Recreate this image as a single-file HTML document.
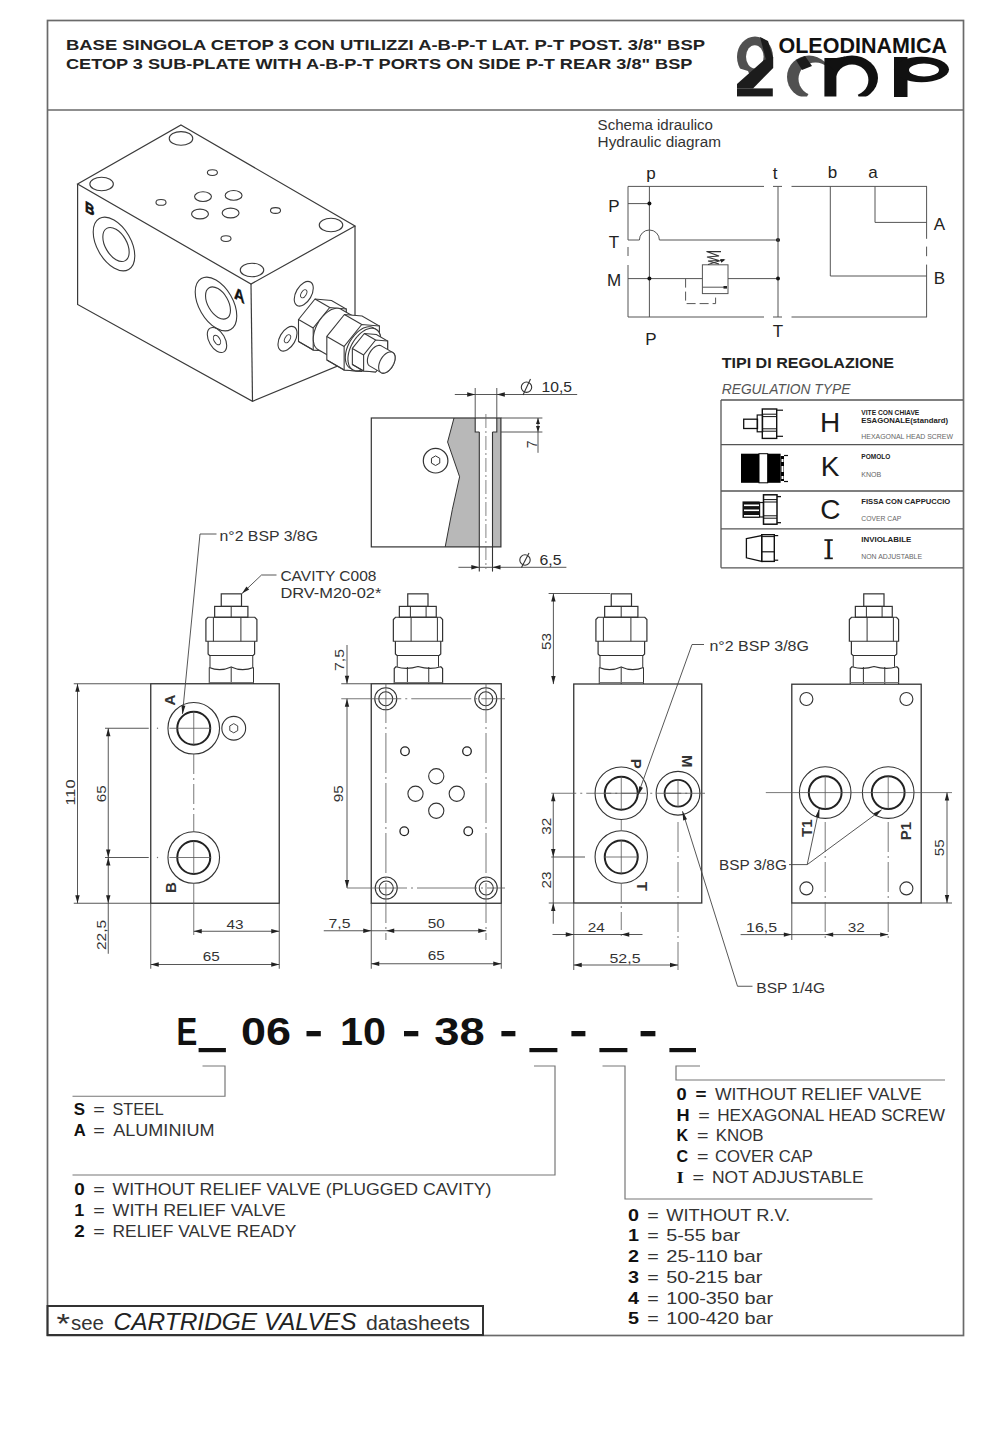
<!DOCTYPE html>
<html><head><meta charset="utf-8"><style>
html,body{margin:0;padding:0;background:#fff;}
svg{display:block;}
</style></head><body>
<svg width="1000" height="1436" viewBox="0 0 1000 1436">
<rect width="1000" height="1436" fill="#fff"/>
<rect x="47.50" y="20.50" width="916.00" height="1315.00" fill="none" stroke="#6a6a6a" stroke-width="1.7"/>
<line x1="47.50" y1="110.00" x2="963.50" y2="110.00" stroke="#6a6a6a" stroke-width="1.7"/>
<text x="66.00" y="50.00" font-family="Liberation Sans" font-size="15" font-weight="bold" text-anchor="start" fill="#222" textLength="639" lengthAdjust="spacingAndGlyphs" >BASE SINGOLA CETOP 3 CON UTILIZZI A-B-P-T LAT. P-T POST. 3/8" BSP</text>
<text x="66.00" y="68.60" font-family="Liberation Sans" font-size="15" font-weight="bold" text-anchor="start" fill="#222" textLength="626.4" lengthAdjust="spacingAndGlyphs" >CETOP 3 SUB-PLATE WITH A-B-P-T PORTS ON SIDE P-T REAR 3/8" BSP</text>
<defs><clipPath id="cl2"><polygon points="725,30 785,30 785,100 760,100 748,71 725,64"/></clipPath><clipPath id="clm1"><polygon points="780,40 825,40 825,66 807,96.5 780,96.5"/></clipPath><clipPath id="clm2"><polygon points="836,40 890,40 890,96.5 858.5,96.5 852,79 836,79"/></clipPath><mask id="mk2"><rect x="720" y="25" width="240" height="80" fill="#fff"/><ellipse cx="754.8" cy="56.8" rx="8.8" ry="11.6" fill="#000"/></mask><mask id="mkm1"><rect x="720" y="25" width="240" height="80" fill="#fff"/><ellipse cx="815.5" cy="79" rx="17" ry="16.5" fill="#000"/></mask><mask id="mkm2"><rect x="720" y="25" width="240" height="80" fill="#fff"/><ellipse cx="852" cy="80" rx="16.4" ry="15.6" fill="#000"/></mask></defs>
<g clip-path="url(#cl2)"><ellipse cx="755" cy="57" rx="18" ry="20.6" fill="#505050" mask="url(#mk2)"/></g>
<polygon points="764.00,60.00 773.20,57.00 773.20,68.00 753.00,88.50 737.00,88.50 737.00,84.00" fill="#1c1c1c" stroke="none" stroke-width="0"/>
<rect x="737.00" y="88.40" width="35.80" height="8.00" fill="#1c1c1c" stroke="none" stroke-width="0"/>
<polygon points="760.00,37.00 768.00,41.00 773.20,58.00 766.00,60.00" fill="#1c1c1c" stroke="none" stroke-width="0"/>
<g clip-path="url(#clm1)"><ellipse cx="809" cy="77" rx="22" ry="21.4" fill="#505050" mask="url(#mkm1)"/></g>
<polygon points="796.00,60.00 805.00,56.00 812.00,66.00 802.00,70.00" fill="#1c1c1c" stroke="none" stroke-width="0"/>
<rect x="824.40" y="58.00" width="12.00" height="38.50" fill="#111" stroke="none" stroke-width="0"/>
<g clip-path="url(#clm2)"><ellipse cx="852" cy="78" rx="26" ry="22.4" fill="#111" mask="url(#mkm2)"/></g>
<polygon points="824.40,62.00 836.40,58.00 845.00,56.50 840.00,68.00 836.40,72.00" fill="#111" stroke="none" stroke-width="0"/>
<rect x="894.00" y="57.00" width="13.50" height="40.00" fill="#111" stroke="none" stroke-width="0"/>
<ellipse cx="921.50" cy="69.50" rx="27.50" ry="12.70" fill="#111" stroke="none" stroke-width="0"/>
<ellipse cx="924.00" cy="70.00" rx="15.00" ry="6.40" fill="#fff" stroke="none" stroke-width="0"/>
<text x="778.40" y="52.80" font-family="Liberation Sans" font-size="22.7" font-weight="bold" text-anchor="start" fill="#111" textLength="168.6" lengthAdjust="spacingAndGlyphs" >OLEODINAMICA</text>
<text x="597.60" y="130.00" font-family="Liberation Sans" font-size="14" font-weight="normal" text-anchor="start" fill="#333" textLength="115.4" lengthAdjust="spacingAndGlyphs" >Schema idraulico</text>
<text x="597.60" y="147.00" font-family="Liberation Sans" font-size="14" font-weight="normal" text-anchor="start" fill="#333" textLength="123.4" lengthAdjust="spacingAndGlyphs" >Hydraulic diagram</text>
<line x1="628.00" y1="186.40" x2="628.00" y2="240.00" stroke="#555" stroke-width="1"/>
<line x1="628.00" y1="247.00" x2="628.00" y2="256.00" stroke="#555" stroke-width="1"/>
<line x1="628.00" y1="265.00" x2="628.00" y2="317.00" stroke="#555" stroke-width="1"/>
<line x1="628.00" y1="186.40" x2="764.00" y2="186.40" stroke="#555" stroke-width="1"/>
<line x1="773.00" y1="186.40" x2="782.00" y2="186.40" stroke="#555" stroke-width="1"/>
<line x1="791.50" y1="186.40" x2="927.00" y2="186.40" stroke="#555" stroke-width="1"/>
<line x1="628.00" y1="317.00" x2="764.00" y2="317.00" stroke="#555" stroke-width="1"/>
<line x1="773.00" y1="317.00" x2="782.00" y2="317.00" stroke="#555" stroke-width="1"/>
<line x1="791.50" y1="317.00" x2="927.00" y2="317.00" stroke="#555" stroke-width="1"/>
<line x1="649.40" y1="186.40" x2="649.40" y2="317.00" stroke="#555" stroke-width="1"/>
<line x1="628.00" y1="203.60" x2="649.40" y2="203.60" stroke="#555" stroke-width="1"/>
<circle cx="649.40" cy="203.60" r="2" fill="#111"/>
<path d="M 628 240 L 639.4 240 A 10 10 0 0 1 659.4 240 L 778 240" fill="none" stroke="#555" stroke-width="1" />
<circle cx="778.00" cy="240.00" r="2" fill="#111"/>
<line x1="778.00" y1="186.40" x2="778.00" y2="317.00" stroke="#555" stroke-width="1"/>
<line x1="628.00" y1="278.60" x2="702.40" y2="278.60" stroke="#555" stroke-width="1"/>
<line x1="728.00" y1="278.60" x2="778.00" y2="278.60" stroke="#555" stroke-width="1"/>
<circle cx="649.40" cy="278.60" r="2" fill="#111"/>
<circle cx="778.00" cy="278.60" r="2" fill="#111"/>
<rect x="702.40" y="264.80" width="25.60" height="28.80" fill="none" stroke="#555" stroke-width="1"/>
<line x1="702.40" y1="287.20" x2="725.00" y2="287.20" stroke="#555" stroke-width="1"/>
<rect x="723.50" y="286.00" width="3.50" height="2.60" fill="#222" stroke="none" stroke-width="0"/>
<polyline points="685.60,278.60 685.60,303.60 715.60,303.60 715.60,293.60" fill="none" stroke="#555" stroke-width="1" stroke-dasharray="9,4"/>
<polyline points="721.00,251.60 706.50,251.60 719.00,256.00 707.00,257.00 719.00,260.50 708.00,261.00 719.00,264.00" fill="none" stroke="#333" stroke-width="1.1"/>
<line x1="708.00" y1="264.50" x2="724.00" y2="259.50" stroke="#333" stroke-width="1"/>
<polygon points="725.50,259.50 721.29,262.85 720.14,259.02" fill="#222"/>
<line x1="830.30" y1="186.40" x2="830.30" y2="276.00" stroke="#555" stroke-width="1"/>
<line x1="830.30" y1="276.00" x2="927.00" y2="276.00" stroke="#555" stroke-width="1"/>
<line x1="875.00" y1="186.40" x2="875.00" y2="222.40" stroke="#555" stroke-width="1"/>
<line x1="875.00" y1="222.40" x2="927.00" y2="222.40" stroke="#555" stroke-width="1"/>
<line x1="926.60" y1="186.40" x2="926.60" y2="238.80" stroke="#555" stroke-width="1"/>
<line x1="926.60" y1="246.60" x2="926.60" y2="256.20" stroke="#555" stroke-width="1"/>
<line x1="926.60" y1="264.60" x2="926.60" y2="317.00" stroke="#555" stroke-width="1"/>
<text x="651.00" y="179.00" font-family="Liberation Sans" font-size="17" font-weight="normal" text-anchor="middle" fill="#222" >p</text>
<text x="775.00" y="179.00" font-family="Liberation Sans" font-size="17" font-weight="normal" text-anchor="middle" fill="#222" >t</text>
<text x="832.40" y="178.40" font-family="Liberation Sans" font-size="17" font-weight="normal" text-anchor="middle" fill="#222" >b</text>
<text x="873.00" y="178.40" font-family="Liberation Sans" font-size="17" font-weight="normal" text-anchor="middle" fill="#222" >a</text>
<text x="614.00" y="212.00" font-family="Liberation Sans" font-size="17" font-weight="normal" text-anchor="middle" fill="#222" >P</text>
<text x="614.00" y="248.00" font-family="Liberation Sans" font-size="17" font-weight="normal" text-anchor="middle" fill="#222" >T</text>
<text x="614.00" y="286.00" font-family="Liberation Sans" font-size="17" font-weight="normal" text-anchor="middle" fill="#222" >M</text>
<text x="651.00" y="345.00" font-family="Liberation Sans" font-size="17" font-weight="normal" text-anchor="middle" fill="#222" >P</text>
<text x="778.00" y="337.00" font-family="Liberation Sans" font-size="17" font-weight="normal" text-anchor="middle" fill="#222" >T</text>
<text x="939.50" y="229.50" font-family="Liberation Sans" font-size="17" font-weight="normal" text-anchor="middle" fill="#222" >A</text>
<text x="939.50" y="284.40" font-family="Liberation Sans" font-size="17" font-weight="normal" text-anchor="middle" fill="#222" >B</text>
<text x="721.70" y="368.40" font-family="Liberation Sans" font-size="14" font-weight="bold" text-anchor="start" fill="#222" textLength="172.3" lengthAdjust="spacingAndGlyphs" >TIPI DI REGOLAZIONE</text>
<text x="721.70" y="393.60" font-family="Liberation Sans" font-size="14" font-weight="normal" text-anchor="start" fill="#555" font-style="italic" textLength="128.7" lengthAdjust="spacingAndGlyphs" >REGULATION TYPE</text>
<line x1="721.00" y1="400.00" x2="963.00" y2="400.00" stroke="#555" stroke-width="1.3"/>
<line x1="721.00" y1="444.60" x2="963.00" y2="444.60" stroke="#555" stroke-width="1.3"/>
<line x1="721.00" y1="491.00" x2="963.00" y2="491.00" stroke="#555" stroke-width="1.3"/>
<line x1="721.00" y1="528.80" x2="963.00" y2="528.80" stroke="#555" stroke-width="1.3"/>
<line x1="721.00" y1="567.80" x2="963.00" y2="567.80" stroke="#555" stroke-width="1.3"/>
<line x1="721.00" y1="400.00" x2="721.00" y2="567.80" stroke="#555" stroke-width="1.3"/>
<text x="830.00" y="432.00" font-family="Liberation Sans" font-size="28" font-weight="normal" text-anchor="middle" fill="#1a1a1a" >H</text>
<text x="830.00" y="476.30" font-family="Liberation Sans" font-size="28" font-weight="normal" text-anchor="middle" fill="#1a1a1a" >K</text>
<text x="830.40" y="519.20" font-family="Liberation Sans" font-size="28" font-weight="normal" text-anchor="middle" fill="#1a1a1a" >C</text>
<text x="828.60" y="559.20" font-family="Liberation Sans" font-size="28" font-weight="normal" text-anchor="middle" fill="#1a1a1a" >I</text>
<rect x="824.40" y="539.20" width="8.40" height="1.70" fill="#1a1a1a" stroke="none" stroke-width="0"/>
<rect x="824.40" y="557.50" width="8.40" height="1.70" fill="#1a1a1a" stroke="none" stroke-width="0"/>
<text x="861.30" y="415.00" font-family="Liberation Sans" font-size="7" font-weight="bold" text-anchor="start" fill="#222" textLength="58" lengthAdjust="spacingAndGlyphs" >VITE CON CHIAVE</text>
<text x="861.30" y="422.50" font-family="Liberation Sans" font-size="7" font-weight="bold" text-anchor="start" fill="#222" textLength="86.7" lengthAdjust="spacingAndGlyphs" >ESAGONALE(standard)</text>
<text x="861.30" y="438.60" font-family="Liberation Sans" font-size="6.5" font-weight="normal" text-anchor="start" fill="#666" textLength="91.7" lengthAdjust="spacingAndGlyphs" >HEXAGONAL HEAD SCREW</text>
<text x="861.30" y="459.40" font-family="Liberation Sans" font-size="7" font-weight="bold" text-anchor="start" fill="#222" textLength="29" lengthAdjust="spacingAndGlyphs" >POMOLO</text>
<text x="861.30" y="476.80" font-family="Liberation Sans" font-size="6.5" font-weight="normal" text-anchor="start" fill="#666" textLength="20" lengthAdjust="spacingAndGlyphs" >KNOB</text>
<text x="861.30" y="504.00" font-family="Liberation Sans" font-size="7" font-weight="bold" text-anchor="start" fill="#222" textLength="89" lengthAdjust="spacingAndGlyphs" >FISSA CON CAPPUCCIO</text>
<text x="861.30" y="521.00" font-family="Liberation Sans" font-size="6.5" font-weight="normal" text-anchor="start" fill="#666" textLength="40" lengthAdjust="spacingAndGlyphs" >COVER CAP</text>
<text x="861.30" y="541.80" font-family="Liberation Sans" font-size="7" font-weight="bold" text-anchor="start" fill="#222" textLength="50" lengthAdjust="spacingAndGlyphs" >INVIOLABILE</text>
<text x="861.30" y="558.70" font-family="Liberation Sans" font-size="6.5" font-weight="normal" text-anchor="start" fill="#666" textLength="60.7" lengthAdjust="spacingAndGlyphs" >NON ADJUSTABLE</text>
<rect x="221.25" y="593.85" width="20.25" height="12.55" fill="none" stroke="#333" stroke-width="1.2"/>
<rect x="214.65" y="606.40" width="33.25" height="10.85" fill="none" stroke="#333" stroke-width="1.2"/>
<line x1="231.20" y1="606.40" x2="231.20" y2="617.25" stroke="#333" stroke-width="1"/>
<path d="M 205.9 641.25 L 205.9 619.5 L 208 617.25 L 254.8 617.25 L 256.9 619.5 L 256.9 641.25 Z" fill="none" stroke="#333" stroke-width="1.2" />
<line x1="213.40" y1="617.25" x2="213.40" y2="641.25" stroke="#333" stroke-width="1"/>
<line x1="240.90" y1="617.25" x2="240.90" y2="641.25" stroke="#333" stroke-width="1"/>
<path d="M 208.1 641.25 L 208.1 654 L 209.5 655.5 L 253.2 655.5 L 254.6 654 L 254.6 641.25" fill="none" stroke="#333" stroke-width="1.2" />
<line x1="210.00" y1="655.50" x2="210.00" y2="667.50" stroke="#333" stroke-width="1"/>
<line x1="252.75" y1="655.50" x2="252.75" y2="667.50" stroke="#333" stroke-width="1"/>
<path d="M 209.25 667.5 Q 220 672 231.2 667 Q 242 672 253.5 667.5" fill="none" stroke="#333" stroke-width="1.3" />
<line x1="209.25" y1="667.50" x2="209.25" y2="684.00" stroke="#333" stroke-width="1"/>
<line x1="253.50" y1="667.50" x2="253.50" y2="684.00" stroke="#333" stroke-width="1"/>
<line x1="231.20" y1="667.50" x2="231.20" y2="684.00" stroke="#333" stroke-width="1"/>
<line x1="209.25" y1="682.50" x2="253.50" y2="682.50" stroke="#777" stroke-width="1"/>
<rect x="150.75" y="683.75" width="128.50" height="219.50" fill="none" stroke="#333" stroke-width="1.3"/>
<circle cx="193.75" cy="728.25" r="25.80" fill="none" stroke="#333" stroke-width="1.1"/>
<circle cx="193.75" cy="728.25" r="16.50" fill="none" stroke="#222" stroke-width="2"/>
<line x1="169.40" y1="728.25" x2="211.00" y2="728.25" stroke="#555" stroke-width="0.8"/>
<line x1="193.75" y1="711.25" x2="193.75" y2="745.25" stroke="#555" stroke-width="0.8"/>
<circle cx="157.50" cy="728.25" r="0.7" fill="#777"/>
<circle cx="193.75" cy="857.50" r="25.80" fill="none" stroke="#333" stroke-width="1.1"/>
<circle cx="193.75" cy="857.50" r="16.50" fill="none" stroke="#222" stroke-width="2"/>
<line x1="169.40" y1="857.50" x2="211.00" y2="857.50" stroke="#555" stroke-width="0.8"/>
<line x1="193.75" y1="840.50" x2="193.75" y2="874.50" stroke="#555" stroke-width="0.8"/>
<circle cx="157.50" cy="857.50" r="0.7" fill="#777"/>
<circle cx="233.75" cy="728.25" r="11.90" fill="none" stroke="#333" stroke-width="1.1"/>
<polygon points="237.73,730.55 233.75,732.85 229.77,730.55 229.77,725.95 233.75,723.65 237.73,725.95" fill="none" stroke="#333" stroke-width="0.9"/>
<line x1="193.75" y1="754.00" x2="193.75" y2="831.50" stroke="#555" stroke-width="0.8" stroke-dasharray="20,4,2,4"/>
<line x1="193.75" y1="883.50" x2="193.75" y2="935.00" stroke="#555" stroke-width="0.8"/>
<text x="169.50" y="700.00" font-family="Liberation Sans" font-size="15" font-weight="bold" text-anchor="middle" fill="#333" transform="rotate(-90 169.50 700.00)" dominant-baseline="central">A</text>
<text x="170.50" y="887.50" font-family="Liberation Sans" font-size="15" font-weight="bold" text-anchor="middle" fill="#333" transform="rotate(-90 170.50 887.50)" dominant-baseline="central">B</text>
<text x="219.50" y="541.00" font-family="Liberation Sans" font-size="14" font-weight="normal" text-anchor="start" fill="#333" textLength="98.5" lengthAdjust="spacingAndGlyphs" >n°2 BSP 3/8G</text>
<line x1="200.00" y1="534.00" x2="216.50" y2="534.00" stroke="#444" stroke-width="0.9"/>
<line x1="200.00" y1="534.00" x2="182.50" y2="713.75" stroke="#444" stroke-width="0.9"/>
<polygon points="182.50,714.50 181.41,705.35 185.39,705.74" fill="#222"/>
<text x="280.40" y="580.80" font-family="Liberation Sans" font-size="14.5" font-weight="normal" text-anchor="start" fill="#333" textLength="96" lengthAdjust="spacingAndGlyphs" >CAVITY C008</text>
<text x="280.40" y="598.40" font-family="Liberation Sans" font-size="14.5" font-weight="normal" text-anchor="start" fill="#333" textLength="101" lengthAdjust="spacingAndGlyphs" >DRV-M20-02*</text>
<line x1="276.50" y1="575.00" x2="261.50" y2="575.00" stroke="#444" stroke-width="0.9"/>
<line x1="261.50" y1="575.00" x2="242.00" y2="593.50" stroke="#444" stroke-width="0.9"/>
<polygon points="242.00,593.50 246.42,586.54 249.18,589.44" fill="#222"/>
<line x1="73.75" y1="683.75" x2="150.75" y2="683.75" stroke="#444" stroke-width="0.9"/>
<line x1="73.75" y1="903.25" x2="150.75" y2="903.25" stroke="#444" stroke-width="0.9"/>
<line x1="77.50" y1="683.75" x2="77.50" y2="903.25" stroke="#444" stroke-width="0.9"/>
<polygon points="77.50,683.75 79.70,691.75 75.30,691.75" fill="#222"/>
<polygon points="77.50,903.25 75.30,895.25 79.70,895.25" fill="#222"/>
<text x="70.00" y="792.50" font-family="Liberation Sans" font-size="13.5" font-weight="normal" text-anchor="middle" fill="#333" textLength="26" lengthAdjust="spacingAndGlyphs" transform="rotate(-90 70.00 792.50)"  dominant-baseline="central">110</text>
<line x1="105.00" y1="728.25" x2="148.75" y2="728.25" stroke="#444" stroke-width="0.9"/>
<line x1="105.00" y1="857.50" x2="148.75" y2="857.50" stroke="#444" stroke-width="0.9"/>
<line x1="108.25" y1="728.25" x2="108.25" y2="953.75" stroke="#444" stroke-width="0.9"/>
<polygon points="108.25,728.25 110.45,736.25 106.05,736.25" fill="#222"/>
<polygon points="108.25,857.50 106.05,849.50 110.45,849.50" fill="#222"/>
<polygon points="108.25,857.50 110.45,865.50 106.05,865.50" fill="#222"/>
<polygon points="108.25,903.25 106.05,895.25 110.45,895.25" fill="#222"/>
<text x="101.25" y="793.75" font-family="Liberation Sans" font-size="13.5" font-weight="normal" text-anchor="middle" fill="#333" textLength="17" lengthAdjust="spacingAndGlyphs" transform="rotate(-90 101.25 793.75)"  dominant-baseline="central">65</text>
<text x="101.00" y="935.00" font-family="Liberation Sans" font-size="13.5" font-weight="normal" text-anchor="middle" fill="#333" textLength="30" lengthAdjust="spacingAndGlyphs" transform="rotate(-90 101.00 935.00)"  dominant-baseline="central">22,5</text>
<line x1="193.75" y1="931.25" x2="279.25" y2="931.25" stroke="#444" stroke-width="0.9"/>
<polygon points="193.75,931.25 201.75,929.05 201.75,933.45" fill="#222"/>
<polygon points="279.25,931.25 271.25,933.45 271.25,929.05" fill="#222"/>
<line x1="279.25" y1="903.25" x2="279.25" y2="968.75" stroke="#444" stroke-width="0.9"/>
<line x1="150.75" y1="903.25" x2="150.75" y2="968.75" stroke="#444" stroke-width="0.9"/>
<text x="235.00" y="928.75" font-family="Liberation Sans" font-size="13.5" font-weight="normal" text-anchor="middle" fill="#333" textLength="17" lengthAdjust="spacingAndGlyphs" >43</text>
<line x1="150.75" y1="964.50" x2="279.25" y2="964.50" stroke="#444" stroke-width="0.9"/>
<polygon points="150.75,964.50 158.75,962.30 158.75,966.70" fill="#222"/>
<polygon points="279.25,964.50 271.25,966.70 271.25,962.30" fill="#222"/>
<text x="211.25" y="961.25" font-family="Liberation Sans" font-size="13.5" font-weight="normal" text-anchor="middle" fill="#333" textLength="17" lengthAdjust="spacingAndGlyphs" >65</text>
<rect x="407.75" y="593.85" width="20.25" height="12.55" fill="none" stroke="#333" stroke-width="1.2"/>
<rect x="399.35" y="606.40" width="36.90" height="10.85" fill="none" stroke="#333" stroke-width="1.2"/>
<line x1="410.40" y1="606.40" x2="410.40" y2="617.25" stroke="#333" stroke-width="1"/>
<line x1="426.10" y1="606.40" x2="426.10" y2="617.25" stroke="#333" stroke-width="1"/>
<path d="M 393.35 641.25 L 393.35 619.5 L 395.5 617.25 L 440.5 617.25 L 442.6 619.5 L 442.6 641.25 Z" fill="none" stroke="#333" stroke-width="1.2" />
<line x1="411.10" y1="617.25" x2="411.10" y2="641.25" stroke="#333" stroke-width="1"/>
<line x1="437.40" y1="617.25" x2="437.40" y2="641.25" stroke="#333" stroke-width="1"/>
<path d="M 395.4 641.25 L 395.4 654 L 397 655.5 L 439.2 655.5 L 440.75 654 L 440.75 641.25" fill="none" stroke="#333" stroke-width="1.2" />
<line x1="397.25" y1="655.50" x2="397.25" y2="666.75" stroke="#333" stroke-width="1"/>
<line x1="438.50" y1="655.50" x2="438.50" y2="666.75" stroke="#333" stroke-width="1"/>
<path d="M 394.25 684 L 394.25 668.5 L 396 666.75 Q 407 670 418 666.5 Q 430 670 440.8 666.75 L 442.6 668.5 L 442.6 684" fill="none" stroke="#333" stroke-width="1.2" />
<line x1="407.40" y1="667.00" x2="407.40" y2="684.00" stroke="#333" stroke-width="1"/>
<line x1="428.75" y1="667.00" x2="428.75" y2="684.00" stroke="#333" stroke-width="1"/>
<line x1="394.25" y1="682.50" x2="442.60" y2="682.50" stroke="#777" stroke-width="1"/>
<rect x="371.25" y="683.75" width="130.00" height="219.50" fill="none" stroke="#333" stroke-width="1.3"/>
<circle cx="385.75" cy="698.75" r="11.00" fill="none" stroke="#333" stroke-width="1.1"/>
<circle cx="385.75" cy="698.75" r="7.00" fill="none" stroke="#333" stroke-width="1.1"/>
<circle cx="485.75" cy="698.75" r="11.00" fill="none" stroke="#333" stroke-width="1.1"/>
<circle cx="485.75" cy="698.75" r="7.00" fill="none" stroke="#333" stroke-width="1.1"/>
<circle cx="386.25" cy="888.00" r="11.00" fill="none" stroke="#333" stroke-width="1.1"/>
<circle cx="386.25" cy="888.00" r="7.00" fill="none" stroke="#333" stroke-width="1.1"/>
<circle cx="486.25" cy="888.00" r="11.00" fill="none" stroke="#333" stroke-width="1.1"/>
<circle cx="486.25" cy="888.00" r="7.00" fill="none" stroke="#333" stroke-width="1.1"/>
<line x1="341.25" y1="698.75" x2="505.00" y2="698.75" stroke="#555" stroke-width="0.8" stroke-dasharray="60,4,2,4"/>
<line x1="347.00" y1="888.00" x2="505.00" y2="888.00" stroke="#555" stroke-width="0.8" stroke-dasharray="60,4,2,4"/>
<line x1="385.90" y1="683.00" x2="385.90" y2="940.00" stroke="#555" stroke-width="0.8" stroke-dasharray="40,4,2,4"/>
<line x1="486.00" y1="683.00" x2="486.00" y2="940.00" stroke="#555" stroke-width="0.8" stroke-dasharray="40,4,2,4"/>
<circle cx="405.00" cy="751.25" r="4.30" fill="none" stroke="#222" stroke-width="1.3"/>
<circle cx="467.00" cy="751.25" r="4.30" fill="none" stroke="#222" stroke-width="1.3"/>
<circle cx="404.25" cy="831.25" r="4.30" fill="none" stroke="#222" stroke-width="1.3"/>
<circle cx="468.25" cy="831.25" r="4.30" fill="none" stroke="#222" stroke-width="1.3"/>
<circle cx="436.25" cy="776.25" r="7.60" fill="none" stroke="#333" stroke-width="1.1"/>
<circle cx="415.50" cy="793.75" r="7.60" fill="none" stroke="#333" stroke-width="1.1"/>
<circle cx="456.75" cy="793.75" r="7.60" fill="none" stroke="#333" stroke-width="1.1"/>
<circle cx="436.25" cy="810.75" r="7.60" fill="none" stroke="#333" stroke-width="1.1"/>
<line x1="341.25" y1="683.75" x2="371.25" y2="683.75" stroke="#444" stroke-width="0.9"/>
<line x1="347.00" y1="645.00" x2="347.00" y2="683.75" stroke="#444" stroke-width="0.9"/>
<polygon points="347.00,683.75 344.80,675.75 349.20,675.75" fill="#222"/>
<line x1="347.00" y1="698.75" x2="347.00" y2="888.00" stroke="#444" stroke-width="0.9"/>
<polygon points="347.00,698.75 349.20,706.75 344.80,706.75" fill="#222"/>
<polygon points="347.00,888.00 344.80,880.00 349.20,880.00" fill="#222"/>
<text x="339.50" y="660.00" font-family="Liberation Sans" font-size="13.5" font-weight="normal" text-anchor="middle" fill="#333" textLength="22" lengthAdjust="spacingAndGlyphs" transform="rotate(-90 339.50 660.00)"  dominant-baseline="central">7,5</text>
<text x="338.75" y="793.75" font-family="Liberation Sans" font-size="13.5" font-weight="normal" text-anchor="middle" fill="#333" textLength="17" lengthAdjust="spacingAndGlyphs" transform="rotate(-90 338.75 793.75)"  dominant-baseline="central">95</text>
<line x1="323.75" y1="930.75" x2="486.25" y2="930.75" stroke="#444" stroke-width="0.9"/>
<polygon points="371.25,930.75 363.25,932.95 363.25,928.55" fill="#222"/>
<polygon points="386.25,930.75 394.25,928.55 394.25,932.95" fill="#222"/>
<polygon points="486.25,930.75 478.25,932.95 478.25,928.55" fill="#222"/>
<line x1="371.25" y1="903.25" x2="371.25" y2="968.75" stroke="#444" stroke-width="0.9"/>
<line x1="501.25" y1="903.25" x2="501.25" y2="968.75" stroke="#444" stroke-width="0.9"/>
<text x="339.50" y="927.50" font-family="Liberation Sans" font-size="13.5" font-weight="normal" text-anchor="middle" fill="#333" textLength="22" lengthAdjust="spacingAndGlyphs" >7,5</text>
<text x="436.25" y="927.50" font-family="Liberation Sans" font-size="13.5" font-weight="normal" text-anchor="middle" fill="#333" textLength="17" lengthAdjust="spacingAndGlyphs" >50</text>
<line x1="371.25" y1="963.75" x2="501.25" y2="963.75" stroke="#444" stroke-width="0.9"/>
<polygon points="371.25,963.75 379.25,961.55 379.25,965.95" fill="#222"/>
<polygon points="501.25,963.75 493.25,965.95 493.25,961.55" fill="#222"/>
<text x="436.25" y="960.00" font-family="Liberation Sans" font-size="13.5" font-weight="normal" text-anchor="middle" fill="#333" textLength="17" lengthAdjust="spacingAndGlyphs" >65</text>
<line x1="548.60" y1="593.50" x2="610.00" y2="593.50" stroke="#444" stroke-width="0.9"/>
<line x1="553.40" y1="593.50" x2="553.40" y2="684.10" stroke="#444" stroke-width="0.9"/>
<polygon points="553.40,593.50 555.60,601.50 551.20,601.50" fill="#222"/>
<polygon points="553.40,684.10 551.20,676.10 555.60,676.10" fill="#222"/>
<text x="546.50" y="641.50" font-family="Liberation Sans" font-size="13.5" font-weight="normal" text-anchor="middle" fill="#333" textLength="17" lengthAdjust="spacingAndGlyphs" transform="rotate(-90 546.50 641.50)"  dominant-baseline="central">53</text>
<rect x="611.25" y="593.85" width="20.25" height="12.55" fill="none" stroke="#333" stroke-width="1.2"/>
<rect x="604.65" y="606.40" width="33.25" height="10.85" fill="none" stroke="#333" stroke-width="1.2"/>
<line x1="621.20" y1="606.40" x2="621.20" y2="617.25" stroke="#333" stroke-width="1"/>
<path d="M 595.9 641.25 L 595.9 619.5 L 598 617.25 L 644.8 617.25 L 646.9 619.5 L 646.9 641.25 Z" fill="none" stroke="#333" stroke-width="1.2" />
<line x1="603.40" y1="617.25" x2="603.40" y2="641.25" stroke="#333" stroke-width="1"/>
<line x1="630.90" y1="617.25" x2="630.90" y2="641.25" stroke="#333" stroke-width="1"/>
<path d="M 598.1 641.25 L 598.1 654 L 599.5 655.5 L 643.2 655.5 L 644.6 654 L 644.6 641.25" fill="none" stroke="#333" stroke-width="1.2" />
<line x1="600.00" y1="655.50" x2="600.00" y2="667.50" stroke="#333" stroke-width="1"/>
<line x1="642.75" y1="655.50" x2="642.75" y2="667.50" stroke="#333" stroke-width="1"/>
<path d="M 599.25 667.5 Q 610 672 621.2 667 Q 632 672 643.5 667.5" fill="none" stroke="#333" stroke-width="1.3" />
<line x1="599.25" y1="667.50" x2="599.25" y2="684.00" stroke="#333" stroke-width="1"/>
<line x1="643.50" y1="667.50" x2="643.50" y2="684.00" stroke="#333" stroke-width="1"/>
<line x1="621.20" y1="667.50" x2="621.20" y2="684.00" stroke="#333" stroke-width="1"/>
<line x1="599.25" y1="682.50" x2="643.50" y2="682.50" stroke="#777" stroke-width="1"/>
<rect x="573.75" y="684.00" width="128.00" height="219.00" fill="none" stroke="#333" stroke-width="1.3"/>
<circle cx="621.25" cy="793.25" r="26.20" fill="none" stroke="#333" stroke-width="1.1"/>
<circle cx="621.25" cy="793.25" r="16.50" fill="none" stroke="#222" stroke-width="2"/>
<line x1="604.00" y1="793.25" x2="638.50" y2="793.25" stroke="#555" stroke-width="0.8"/>
<line x1="621.25" y1="776.25" x2="621.25" y2="810.25" stroke="#555" stroke-width="0.8"/>
<circle cx="621.25" cy="857.00" r="26.20" fill="none" stroke="#333" stroke-width="1.1"/>
<circle cx="621.25" cy="857.00" r="16.50" fill="none" stroke="#222" stroke-width="2"/>
<line x1="604.00" y1="857.00" x2="638.50" y2="857.00" stroke="#555" stroke-width="0.8"/>
<line x1="621.25" y1="840.00" x2="621.25" y2="874.00" stroke="#555" stroke-width="0.8"/>
<circle cx="678.00" cy="793.25" r="21.90" fill="none" stroke="#333" stroke-width="1.1"/>
<circle cx="678.00" cy="793.25" r="13.40" fill="none" stroke="#222" stroke-width="1.8"/>
<line x1="664.00" y1="793.25" x2="692.00" y2="793.25" stroke="#555" stroke-width="0.8"/>
<line x1="678.00" y1="779.00" x2="678.00" y2="807.00" stroke="#555" stroke-width="0.8"/>
<line x1="551.25" y1="793.25" x2="705.00" y2="793.25" stroke="#555" stroke-width="0.8" stroke-dasharray="25,4,2,4"/>
<line x1="551.25" y1="857.00" x2="585.00" y2="857.00" stroke="#444" stroke-width="0.9"/>
<line x1="548.75" y1="903.00" x2="573.75" y2="903.00" stroke="#444" stroke-width="0.9"/>
<line x1="621.25" y1="820.00" x2="621.25" y2="830.00" stroke="#555" stroke-width="0.8"/>
<line x1="621.25" y1="884.00" x2="621.25" y2="940.00" stroke="#555" stroke-width="0.8" stroke-dasharray="18,4,2,4"/>
<line x1="678.00" y1="822.00" x2="678.00" y2="970.00" stroke="#555" stroke-width="0.8" stroke-dasharray="30,4,2,4"/>
<text x="636.25" y="763.75" font-family="Liberation Sans" font-size="15" font-weight="bold" text-anchor="middle" fill="#333" transform="rotate(90 636.25 763.75)" dominant-baseline="central">P</text>
<text x="687.00" y="761.25" font-family="Liberation Sans" font-size="15" font-weight="bold" text-anchor="middle" fill="#333" transform="rotate(90 687.00 761.25)" dominant-baseline="central">M</text>
<text x="642.50" y="886.25" font-family="Liberation Sans" font-size="15" font-weight="bold" text-anchor="middle" fill="#333" transform="rotate(90 642.50 886.25)" dominant-baseline="central">T</text>
<line x1="553.25" y1="793.25" x2="553.25" y2="923.75" stroke="#444" stroke-width="0.9"/>
<polygon points="553.25,793.25 555.45,801.25 551.05,801.25" fill="#222"/>
<polygon points="553.25,857.00 551.05,849.00 555.45,849.00" fill="#222"/>
<polygon points="553.25,903.00 555.45,911.00 551.05,911.00" fill="#222"/>
<text x="546.25" y="826.25" font-family="Liberation Sans" font-size="13.5" font-weight="normal" text-anchor="middle" fill="#333" textLength="17" lengthAdjust="spacingAndGlyphs" transform="rotate(-90 546.25 826.25)"  dominant-baseline="central">32</text>
<text x="546.25" y="880.00" font-family="Liberation Sans" font-size="13.5" font-weight="normal" text-anchor="middle" fill="#333" textLength="17" lengthAdjust="spacingAndGlyphs" transform="rotate(-90 546.25 880.00)"  dominant-baseline="central">23</text>
<line x1="552.50" y1="934.50" x2="642.50" y2="934.50" stroke="#444" stroke-width="0.9"/>
<polygon points="573.75,934.50 565.75,936.70 565.75,932.30" fill="#222"/>
<polygon points="621.25,934.50 629.25,932.30 629.25,936.70" fill="#222"/>
<line x1="573.75" y1="903.00" x2="573.75" y2="970.00" stroke="#444" stroke-width="0.9"/>
<text x="596.25" y="932.00" font-family="Liberation Sans" font-size="13.5" font-weight="normal" text-anchor="middle" fill="#333" textLength="17" lengthAdjust="spacingAndGlyphs" >24</text>
<line x1="573.75" y1="965.00" x2="678.00" y2="965.00" stroke="#444" stroke-width="0.9"/>
<polygon points="573.75,965.00 581.75,962.80 581.75,967.20" fill="#222"/>
<polygon points="678.00,965.00 670.00,967.20 670.00,962.80" fill="#222"/>
<text x="625.00" y="962.50" font-family="Liberation Sans" font-size="13.5" font-weight="normal" text-anchor="middle" fill="#333" textLength="31" lengthAdjust="spacingAndGlyphs" >52,5</text>
<text x="709.40" y="650.50" font-family="Liberation Sans" font-size="14" font-weight="normal" text-anchor="start" fill="#333" textLength="99.6" lengthAdjust="spacingAndGlyphs" >n°2 BSP 3/8G</text>
<line x1="704.00" y1="644.50" x2="692.00" y2="644.50" stroke="#444" stroke-width="0.9"/>
<line x1="692.00" y1="644.50" x2="638.00" y2="794.50" stroke="#444" stroke-width="0.9"/>
<polygon points="638.00,795.50 639.17,786.35 642.93,787.71" fill="#222"/>
<line x1="682.50" y1="811.25" x2="737.50" y2="986.25" stroke="#444" stroke-width="0.9"/>
<polygon points="682.50,811.25 687.00,819.30 683.17,820.45" fill="#222"/>
<line x1="737.50" y1="986.25" x2="752.50" y2="986.25" stroke="#444" stroke-width="0.9"/>
<text x="756.25" y="992.50" font-family="Liberation Sans" font-size="14" font-weight="normal" text-anchor="start" fill="#333" textLength="69" lengthAdjust="spacingAndGlyphs" >BSP 1/4G</text>
<rect x="863.75" y="593.85" width="20.25" height="12.55" fill="none" stroke="#333" stroke-width="1.2"/>
<rect x="855.35" y="606.40" width="36.90" height="10.85" fill="none" stroke="#333" stroke-width="1.2"/>
<line x1="866.40" y1="606.40" x2="866.40" y2="617.25" stroke="#333" stroke-width="1"/>
<line x1="882.10" y1="606.40" x2="882.10" y2="617.25" stroke="#333" stroke-width="1"/>
<path d="M 849.35 641.25 L 849.35 619.5 L 851.5 617.25 L 896.5 617.25 L 898.6 619.5 L 898.6 641.25 Z" fill="none" stroke="#333" stroke-width="1.2" />
<line x1="867.10" y1="617.25" x2="867.10" y2="641.25" stroke="#333" stroke-width="1"/>
<line x1="893.40" y1="617.25" x2="893.40" y2="641.25" stroke="#333" stroke-width="1"/>
<path d="M 851.4 641.25 L 851.4 654 L 853 655.5 L 895.2 655.5 L 896.75 654 L 896.75 641.25" fill="none" stroke="#333" stroke-width="1.2" />
<line x1="853.25" y1="655.50" x2="853.25" y2="666.75" stroke="#333" stroke-width="1"/>
<line x1="894.50" y1="655.50" x2="894.50" y2="666.75" stroke="#333" stroke-width="1"/>
<path d="M 850.25 684 L 850.25 668.5 L 852 666.75 Q 863 670 874 666.5 Q 886 670 896.8 666.75 L 898.6 668.5 L 898.6 684" fill="none" stroke="#333" stroke-width="1.2" />
<line x1="863.40" y1="667.00" x2="863.40" y2="684.00" stroke="#333" stroke-width="1"/>
<line x1="884.75" y1="667.00" x2="884.75" y2="684.00" stroke="#333" stroke-width="1"/>
<line x1="850.25" y1="682.50" x2="898.60" y2="682.50" stroke="#777" stroke-width="1"/>
<rect x="791.80" y="684.20" width="129.40" height="218.80" fill="none" stroke="#333" stroke-width="1.3"/>
<circle cx="806.40" cy="699.00" r="6.50" fill="none" stroke="#333" stroke-width="1.1"/>
<circle cx="906.40" cy="699.00" r="6.50" fill="none" stroke="#333" stroke-width="1.1"/>
<circle cx="806.40" cy="888.40" r="6.50" fill="none" stroke="#333" stroke-width="1.1"/>
<circle cx="906.40" cy="888.40" r="6.50" fill="none" stroke="#333" stroke-width="1.1"/>
<circle cx="825.20" cy="792.60" r="25.80" fill="none" stroke="#333" stroke-width="1.1"/>
<circle cx="825.20" cy="792.60" r="16.40" fill="none" stroke="#222" stroke-width="2"/>
<line x1="825.20" y1="776.00" x2="825.20" y2="809.00" stroke="#555" stroke-width="0.8"/>
<circle cx="888.20" cy="792.60" r="25.80" fill="none" stroke="#333" stroke-width="1.1"/>
<circle cx="888.20" cy="792.60" r="16.40" fill="none" stroke="#222" stroke-width="2"/>
<line x1="888.20" y1="776.00" x2="888.20" y2="809.00" stroke="#555" stroke-width="0.8"/>
<line x1="765.80" y1="792.60" x2="952.00" y2="792.60" stroke="#555" stroke-width="0.8"/>
<line x1="825.20" y1="822.00" x2="825.20" y2="940.20" stroke="#555" stroke-width="0.8" stroke-dasharray="30,4,2,4"/>
<line x1="888.20" y1="822.00" x2="888.20" y2="940.20" stroke="#555" stroke-width="0.8" stroke-dasharray="30,4,2,4"/>
<line x1="921.20" y1="903.00" x2="952.00" y2="903.00" stroke="#444" stroke-width="0.9"/>
<line x1="947.00" y1="792.60" x2="947.00" y2="903.00" stroke="#444" stroke-width="0.9"/>
<polygon points="947.00,792.60 949.20,800.60 944.80,800.60" fill="#222"/>
<polygon points="947.00,903.00 944.80,895.00 949.20,895.00" fill="#222"/>
<text x="939.40" y="847.80" font-family="Liberation Sans" font-size="13.5" font-weight="normal" text-anchor="middle" fill="#333" textLength="17" lengthAdjust="spacingAndGlyphs" transform="rotate(-90 939.40 847.80)"  dominant-baseline="central">55</text>
<text x="806.40" y="828.20" font-family="Liberation Sans" font-size="15" font-weight="bold" text-anchor="middle" fill="#333" transform="rotate(-90 806.40 828.20)" dominant-baseline="central">T1</text>
<text x="905.20" y="831.00" font-family="Liberation Sans" font-size="15" font-weight="bold" text-anchor="middle" fill="#333" transform="rotate(-90 905.20 831.00)" dominant-baseline="central">P1</text>
<line x1="740.60" y1="934.60" x2="888.20" y2="934.60" stroke="#444" stroke-width="0.9"/>
<polygon points="791.80,934.60 783.80,936.80 783.80,932.40" fill="#222"/>
<polygon points="825.20,934.60 833.20,932.40 833.20,936.80" fill="#222"/>
<polygon points="888.20,934.60 880.20,936.80 880.20,932.40" fill="#222"/>
<line x1="791.80" y1="903.00" x2="791.80" y2="940.00" stroke="#444" stroke-width="0.9"/>
<text x="761.60" y="932.00" font-family="Liberation Sans" font-size="13.5" font-weight="normal" text-anchor="middle" fill="#333" textLength="31" lengthAdjust="spacingAndGlyphs" >16,5</text>
<text x="856.20" y="932.00" font-family="Liberation Sans" font-size="13.5" font-weight="normal" text-anchor="middle" fill="#333" textLength="17" lengthAdjust="spacingAndGlyphs" >32</text>
<text x="719.00" y="870.20" font-family="Liberation Sans" font-size="14" font-weight="normal" text-anchor="start" fill="#333" textLength="67.8" lengthAdjust="spacingAndGlyphs" >BSP 3/8G</text>
<line x1="789.00" y1="864.60" x2="807.20" y2="864.60" stroke="#444" stroke-width="0.9"/>
<line x1="807.20" y1="864.60" x2="819.00" y2="809.40" stroke="#444" stroke-width="0.9"/>
<line x1="807.20" y1="864.60" x2="881.40" y2="810.00" stroke="#444" stroke-width="0.9"/>
<polygon points="819.50,808.50 819.26,817.72 815.38,816.75" fill="#222"/>
<polygon points="882.00,809.50 876.00,816.50 873.60,813.30" fill="#222"/>
<polygon points="454.00,418.00 447.60,442.00 459.60,476.80 452.40,509.20 445.20,546.90 500.90,546.90 500.90,418.00" fill="#b8b8b8" stroke="none" stroke-width="0"/>
<rect x="475.20" y="418.00" width="21.60" height="14.00" fill="#fff" stroke="none" stroke-width="0"/>
<rect x="479.30" y="432.00" width="13.20" height="114.90" fill="#fff" stroke="none" stroke-width="0"/>
<polyline points="454.00,418.00 447.60,442.00 459.60,476.80 452.40,509.20 445.20,546.90" fill="none" stroke="#333" stroke-width="1"/>
<rect x="371.30" y="418.00" width="129.60" height="128.90" fill="none" stroke="#333" stroke-width="1.2"/>
<polyline points="475.20,418.00 475.20,432.00 479.30,432.00" fill="none" stroke="#333" stroke-width="1.1"/>
<polyline points="496.80,418.00 496.80,432.00 492.50,432.00" fill="none" stroke="#333" stroke-width="1.1"/>
<line x1="479.30" y1="432.00" x2="479.30" y2="571.60" stroke="#333" stroke-width="1.1"/>
<line x1="492.50" y1="432.00" x2="492.50" y2="571.60" stroke="#333" stroke-width="1.1"/>
<line x1="485.90" y1="414.00" x2="485.90" y2="569.00" stroke="#666" stroke-width="0.8" stroke-dasharray="14,3,2,3"/>
<line x1="475.20" y1="418.00" x2="475.20" y2="388.00" stroke="#444" stroke-width="0.9"/>
<line x1="496.80" y1="418.00" x2="496.80" y2="388.00" stroke="#444" stroke-width="0.9"/>
<line x1="454.80" y1="394.50" x2="577.20" y2="394.50" stroke="#444" stroke-width="0.9"/>
<polygon points="475.20,394.50 467.20,396.70 467.20,392.30" fill="#222"/>
<polygon points="496.80,394.50 504.80,392.30 504.80,396.70" fill="#222"/>
<circle cx="526.50" cy="387.20" r="5.20" fill="none" stroke="#333" stroke-width="1.1"/>
<line x1="523.00" y1="395.00" x2="530.50" y2="379.00" stroke="#333" stroke-width="1.1"/>
<text x="541.50" y="392.00" font-family="Liberation Sans" font-size="14.5" font-weight="normal" text-anchor="start" fill="#2a2a2a" textLength="30.5" lengthAdjust="spacingAndGlyphs" >10,5</text>
<line x1="501.00" y1="418.00" x2="542.40" y2="418.00" stroke="#444" stroke-width="0.9"/>
<line x1="501.00" y1="432.00" x2="542.40" y2="432.00" stroke="#444" stroke-width="0.9"/>
<line x1="538.00" y1="418.00" x2="538.00" y2="452.80" stroke="#444" stroke-width="0.9"/>
<polygon points="538.00,418.00 540.00,424.00 536.00,424.00" fill="#222"/>
<polygon points="538.00,432.00 536.00,426.00 540.00,426.00" fill="#222"/>
<text x="532.30" y="444.40" font-family="Liberation Sans" font-size="14" font-weight="normal" text-anchor="middle" fill="#333" transform="rotate(-90 532.30 444.40)" dominant-baseline="central">7</text>
<line x1="458.40" y1="567.30" x2="566.40" y2="567.30" stroke="#444" stroke-width="0.9"/>
<polygon points="479.30,567.30 471.30,569.50 471.30,565.10" fill="#222"/>
<polygon points="492.50,567.30 500.50,565.10 500.50,569.50" fill="#222"/>
<circle cx="525.00" cy="560.00" r="5.20" fill="none" stroke="#333" stroke-width="1.1"/>
<line x1="521.50" y1="567.50" x2="529.00" y2="553.00" stroke="#333" stroke-width="1.1"/>
<text x="539.50" y="564.60" font-family="Liberation Sans" font-size="14.5" font-weight="normal" text-anchor="start" fill="#2a2a2a" textLength="22" lengthAdjust="spacingAndGlyphs" >6,5</text>
<circle cx="435.60" cy="460.70" r="12.30" fill="none" stroke="#333" stroke-width="1.2"/>
<polygon points="439.76,463.10 435.60,465.50 431.44,463.10 431.44,458.30 435.60,455.90 439.76,458.30" fill="none" stroke="#333" stroke-width="1"/>
<rect x="743.70" y="419.20" width="13.80" height="9.30" fill="none" stroke="#111" stroke-width="1.3"/>
<rect x="757.20" y="415.00" width="5.40" height="16.80" fill="none" stroke="#111" stroke-width="1.2"/>
<rect x="762.30" y="409.00" width="14.40" height="29.40" fill="none" stroke="#111" stroke-width="1.4"/>
<line x1="762.30" y1="414.20" x2="776.70" y2="414.20" stroke="#111" stroke-width="1"/>
<line x1="762.30" y1="416.60" x2="776.70" y2="416.60" stroke="#111" stroke-width="1"/>
<line x1="762.30" y1="428.80" x2="776.70" y2="428.80" stroke="#111" stroke-width="1"/>
<line x1="762.30" y1="431.20" x2="776.70" y2="431.20" stroke="#111" stroke-width="1"/>
<line x1="776.70" y1="410.20" x2="783.00" y2="410.20" stroke="#111" stroke-width="1.2"/>
<line x1="776.70" y1="436.30" x2="783.00" y2="436.30" stroke="#111" stroke-width="1.2"/>
<rect x="741.00" y="453.70" width="18.00" height="29.10" fill="#000" stroke="none" stroke-width="0"/>
<rect x="767.70" y="453.70" width="12.90" height="29.10" fill="#000" stroke="none" stroke-width="0"/>
<rect x="759.00" y="453.70" width="8.70" height="29.10" fill="none" stroke="#000" stroke-width="1"/>
<rect x="780.60" y="456.00" width="3.40" height="25.00" fill="#000" stroke="none" stroke-width="0"/>
<line x1="784.00" y1="455.50" x2="788.00" y2="455.50" stroke="#111" stroke-width="1.2"/>
<line x1="784.00" y1="481.50" x2="788.00" y2="481.50" stroke="#111" stroke-width="1.2"/>
<rect x="781.50" y="459.00" width="2.00" height="3.00" fill="#fff" stroke="none" stroke-width="0"/>
<rect x="781.50" y="466.00" width="2.00" height="6.00" fill="#fff" stroke="none" stroke-width="0"/>
<rect x="781.50" y="476.00" width="2.00" height="3.00" fill="#fff" stroke="none" stroke-width="0"/>
<rect x="742.50" y="501.40" width="17.10" height="16.50" fill="#111" stroke="none" stroke-width="0"/>
<rect x="744.00" y="504.50" width="15.00" height="1.60" fill="#fff" stroke="none" stroke-width="0"/>
<rect x="744.00" y="509.50" width="15.00" height="1.60" fill="#fff" stroke="none" stroke-width="0"/>
<rect x="744.00" y="515.00" width="15.00" height="1.60" fill="#fff" stroke="none" stroke-width="0"/>
<rect x="759.60" y="502.50" width="3.90" height="14.50" fill="none" stroke="#111" stroke-width="1.2"/>
<rect x="763.50" y="494.80" width="13.50" height="29.40" fill="none" stroke="#111" stroke-width="1.5"/>
<line x1="763.50" y1="499.60" x2="777.00" y2="499.60" stroke="#111" stroke-width="1"/>
<line x1="763.50" y1="502.00" x2="777.00" y2="502.00" stroke="#111" stroke-width="1"/>
<line x1="763.50" y1="515.80" x2="777.00" y2="515.80" stroke="#111" stroke-width="1"/>
<line x1="763.50" y1="518.20" x2="777.00" y2="518.20" stroke="#111" stroke-width="1"/>
<line x1="777.00" y1="496.60" x2="781.00" y2="496.60" stroke="#111" stroke-width="1.3"/>
<line x1="777.00" y1="522.70" x2="781.00" y2="522.70" stroke="#111" stroke-width="1.3"/>
<polygon points="746.40,538.60 761.70,535.60 761.70,561.40 746.40,557.80" fill="none" stroke="#111" stroke-width="1.3"/>
<rect x="761.70" y="534.70" width="12.60" height="26.70" fill="none" stroke="#111" stroke-width="1.4"/>
<line x1="761.70" y1="536.60" x2="774.30" y2="536.60" stroke="#111" stroke-width="1"/>
<line x1="761.70" y1="551.80" x2="774.30" y2="551.80" stroke="#111" stroke-width="1.2"/>
<line x1="774.30" y1="535.60" x2="778.20" y2="535.60" stroke="#111" stroke-width="1.2"/>
<line x1="774.30" y1="560.20" x2="778.20" y2="560.20" stroke="#111" stroke-width="1.2"/>
<text x="176.50" y="1045.00" font-family="Liberation Sans" font-size="38" font-weight="bold" text-anchor="start" fill="#111" textLength="20.80000000000001" lengthAdjust="spacingAndGlyphs" >E</text>
<text x="241.00" y="1045.00" font-family="Liberation Sans" font-size="38" font-weight="bold" text-anchor="start" fill="#111" textLength="50" lengthAdjust="spacingAndGlyphs" >06</text>
<text x="340.00" y="1045.00" font-family="Liberation Sans" font-size="38" font-weight="bold" text-anchor="start" fill="#111" textLength="46" lengthAdjust="spacingAndGlyphs" >10</text>
<text x="434.20" y="1045.00" font-family="Liberation Sans" font-size="38" font-weight="bold" text-anchor="start" fill="#111" textLength="50.400000000000034" lengthAdjust="spacingAndGlyphs" >38</text>
<rect x="198.60" y="1048.00" width="27.30" height="4.20" fill="#111" stroke="none" stroke-width="0"/>
<rect x="529.40" y="1048.00" width="28.00" height="4.20" fill="#111" stroke="none" stroke-width="0"/>
<rect x="599.40" y="1048.00" width="28.00" height="4.20" fill="#111" stroke="none" stroke-width="0"/>
<rect x="669.40" y="1048.00" width="26.60" height="4.20" fill="#111" stroke="none" stroke-width="0"/>
<rect x="306.50" y="1031.00" width="14.30" height="5.30" fill="#111" stroke="none" stroke-width="0"/>
<rect x="404.00" y="1031.00" width="14.30" height="5.30" fill="#111" stroke="none" stroke-width="0"/>
<rect x="501.40" y="1031.00" width="14.00" height="5.30" fill="#111" stroke="none" stroke-width="0"/>
<rect x="571.40" y="1031.00" width="14.00" height="5.30" fill="#111" stroke="none" stroke-width="0"/>
<rect x="640.60" y="1031.00" width="14.80" height="5.30" fill="#111" stroke="none" stroke-width="0"/>
<polyline points="202.50,1066.00 225.00,1066.00 225.00,1096.25 72.50,1096.25" fill="none" stroke="#777" stroke-width="1.2"/>
<polyline points="534.00,1066.00 555.00,1066.00 555.00,1175.00 72.50,1175.00" fill="none" stroke="#777" stroke-width="1.2"/>
<polyline points="602.50,1066.00 625.00,1066.00 625.00,1199.00 872.50,1199.00" fill="none" stroke="#777" stroke-width="1.2"/>
<polyline points="700.00,1066.00 676.00,1066.00 676.00,1080.00 945.00,1080.00" fill="none" stroke="#777" stroke-width="1.2"/>
<text x="73.75" y="1115.00" font-family="Liberation Sans" font-size="17" font-weight="bold" text-anchor="start" fill="#111" textLength="11.25" lengthAdjust="spacingAndGlyphs" >S</text>
<text x="93.25" y="1115.00" font-family="Liberation Sans" font-size="17" font-weight="normal" text-anchor="start" fill="#333" textLength="11.5" lengthAdjust="spacingAndGlyphs" >=</text>
<text x="112.50" y="1115.00" font-family="Liberation Sans" font-size="17" font-weight="normal" text-anchor="start" fill="#333" textLength="51.25" lengthAdjust="spacingAndGlyphs" >STEEL</text>
<text x="73.75" y="1135.50" font-family="Liberation Sans" font-size="17" font-weight="bold" text-anchor="start" fill="#111" textLength="12" lengthAdjust="spacingAndGlyphs" >A</text>
<text x="93.25" y="1135.50" font-family="Liberation Sans" font-size="17" font-weight="normal" text-anchor="start" fill="#333" textLength="11.5" lengthAdjust="spacingAndGlyphs" >=</text>
<text x="113.25" y="1135.50" font-family="Liberation Sans" font-size="17" font-weight="normal" text-anchor="start" fill="#333" textLength="101.25" lengthAdjust="spacingAndGlyphs" >ALUMINIUM</text>
<text x="74.25" y="1194.50" font-family="Liberation Sans" font-size="17" font-weight="bold" text-anchor="start" fill="#111" textLength="10.5" lengthAdjust="spacingAndGlyphs" >0</text>
<text x="93.25" y="1194.50" font-family="Liberation Sans" font-size="17" font-weight="normal" text-anchor="start" fill="#333" textLength="11.5" lengthAdjust="spacingAndGlyphs" >=</text>
<text x="112.50" y="1194.50" font-family="Liberation Sans" font-size="17" font-weight="normal" text-anchor="start" fill="#333" textLength="379" lengthAdjust="spacingAndGlyphs" >WITHOUT RELIEF VALVE (PLUGGED CAVITY)</text>
<text x="74.25" y="1215.50" font-family="Liberation Sans" font-size="17" font-weight="bold" text-anchor="start" fill="#111" textLength="10" lengthAdjust="spacingAndGlyphs" >1</text>
<text x="93.25" y="1215.50" font-family="Liberation Sans" font-size="17" font-weight="normal" text-anchor="start" fill="#333" textLength="11.5" lengthAdjust="spacingAndGlyphs" >=</text>
<text x="112.50" y="1215.50" font-family="Liberation Sans" font-size="17" font-weight="normal" text-anchor="start" fill="#333" textLength="173.25" lengthAdjust="spacingAndGlyphs" >WITH RELIEF VALVE</text>
<text x="74.25" y="1236.75" font-family="Liberation Sans" font-size="17" font-weight="bold" text-anchor="start" fill="#111" textLength="10.5" lengthAdjust="spacingAndGlyphs" >2</text>
<text x="93.25" y="1236.75" font-family="Liberation Sans" font-size="17" font-weight="normal" text-anchor="start" fill="#333" textLength="11.5" lengthAdjust="spacingAndGlyphs" >=</text>
<text x="112.50" y="1236.75" font-family="Liberation Sans" font-size="17" font-weight="normal" text-anchor="start" fill="#333" textLength="183.75" lengthAdjust="spacingAndGlyphs" >RELIEF VALVE READY</text>
<text x="676.60" y="1099.90" font-family="Liberation Sans" font-size="17" font-weight="bold" text-anchor="start" fill="#111" textLength="10.15" lengthAdjust="spacingAndGlyphs" >0</text>
<text x="695.50" y="1099.90" font-family="Liberation Sans" font-size="17" font-weight="bold" text-anchor="start" fill="#111" textLength="11" lengthAdjust="spacingAndGlyphs" >=</text>
<text x="714.90" y="1099.90" font-family="Liberation Sans" font-size="17" font-weight="normal" text-anchor="start" fill="#333" textLength="206.8" lengthAdjust="spacingAndGlyphs" >WITHOUT RELIEF VALVE</text>
<text x="676.60" y="1120.75" font-family="Liberation Sans" font-size="17" font-weight="bold" text-anchor="start" fill="#111" textLength="13.1" lengthAdjust="spacingAndGlyphs" >H</text>
<text x="698.25" y="1120.75" font-family="Liberation Sans" font-size="17" font-weight="normal" text-anchor="start" fill="#333" textLength="11.5" lengthAdjust="spacingAndGlyphs" >=</text>
<text x="717.20" y="1120.75" font-family="Liberation Sans" font-size="17" font-weight="normal" text-anchor="start" fill="#333" textLength="227.7" lengthAdjust="spacingAndGlyphs" >HEXAGONAL HEAD SCREW</text>
<text x="676.60" y="1141.00" font-family="Liberation Sans" font-size="17" font-weight="bold" text-anchor="start" fill="#111" textLength="11.6" lengthAdjust="spacingAndGlyphs" >K</text>
<text x="697.05" y="1141.00" font-family="Liberation Sans" font-size="17" font-weight="normal" text-anchor="start" fill="#333" textLength="11.5" lengthAdjust="spacingAndGlyphs" >=</text>
<text x="715.75" y="1141.00" font-family="Liberation Sans" font-size="17" font-weight="normal" text-anchor="start" fill="#333" textLength="47.85" lengthAdjust="spacingAndGlyphs" >KNOB</text>
<text x="676.60" y="1162.20" font-family="Liberation Sans" font-size="17" font-weight="bold" text-anchor="start" fill="#111" textLength="11.6" lengthAdjust="spacingAndGlyphs" >C</text>
<text x="697.05" y="1162.20" font-family="Liberation Sans" font-size="17" font-weight="normal" text-anchor="start" fill="#333" textLength="11.5" lengthAdjust="spacingAndGlyphs" >=</text>
<text x="714.90" y="1162.20" font-family="Liberation Sans" font-size="17" font-weight="normal" text-anchor="start" fill="#333" textLength="98" lengthAdjust="spacingAndGlyphs" >COVER CAP</text>
<text x="676.60" y="1182.50" font-family="Liberation Serif" font-size="17" font-weight="bold" text-anchor="start" fill="#111" textLength="7.3" lengthAdjust="spacingAndGlyphs" >I</text>
<text x="692.55" y="1182.50" font-family="Liberation Sans" font-size="17" font-weight="normal" text-anchor="start" fill="#333" textLength="11.6" lengthAdjust="spacingAndGlyphs" >=</text>
<text x="712.00" y="1182.50" font-family="Liberation Sans" font-size="17" font-weight="normal" text-anchor="start" fill="#333" textLength="151.7" lengthAdjust="spacingAndGlyphs" >NOT ADJUSTABLE</text>
<text x="628.00" y="1220.75" font-family="Liberation Sans" font-size="17" font-weight="bold" text-anchor="start" fill="#111" textLength="11" lengthAdjust="spacingAndGlyphs" >0</text>
<text x="647.25" y="1220.75" font-family="Liberation Sans" font-size="17" font-weight="normal" text-anchor="start" fill="#333" textLength="11.5" lengthAdjust="spacingAndGlyphs" >=</text>
<text x="666.25" y="1220.75" font-family="Liberation Sans" font-size="17" font-weight="normal" text-anchor="start" fill="#333" textLength="123.75" lengthAdjust="spacingAndGlyphs" >WITHOUT R.V.</text>
<text x="628.00" y="1241.25" font-family="Liberation Sans" font-size="17" font-weight="bold" text-anchor="start" fill="#111" textLength="11" lengthAdjust="spacingAndGlyphs" >1</text>
<text x="647.25" y="1241.25" font-family="Liberation Sans" font-size="17" font-weight="normal" text-anchor="start" fill="#333" textLength="11.5" lengthAdjust="spacingAndGlyphs" >=</text>
<text x="666.25" y="1241.25" font-family="Liberation Sans" font-size="17" font-weight="normal" text-anchor="start" fill="#333" textLength="73.75" lengthAdjust="spacingAndGlyphs" >5-55 bar</text>
<text x="628.00" y="1262.00" font-family="Liberation Sans" font-size="17" font-weight="bold" text-anchor="start" fill="#111" textLength="11" lengthAdjust="spacingAndGlyphs" >2</text>
<text x="647.25" y="1262.00" font-family="Liberation Sans" font-size="17" font-weight="normal" text-anchor="start" fill="#333" textLength="11.5" lengthAdjust="spacingAndGlyphs" >=</text>
<text x="666.25" y="1262.00" font-family="Liberation Sans" font-size="17" font-weight="normal" text-anchor="start" fill="#333" textLength="96.25" lengthAdjust="spacingAndGlyphs" >25-110 bar</text>
<text x="628.00" y="1282.50" font-family="Liberation Sans" font-size="17" font-weight="bold" text-anchor="start" fill="#111" textLength="11" lengthAdjust="spacingAndGlyphs" >3</text>
<text x="647.25" y="1282.50" font-family="Liberation Sans" font-size="17" font-weight="normal" text-anchor="start" fill="#333" textLength="11.5" lengthAdjust="spacingAndGlyphs" >=</text>
<text x="666.25" y="1282.50" font-family="Liberation Sans" font-size="17" font-weight="normal" text-anchor="start" fill="#333" textLength="96.25" lengthAdjust="spacingAndGlyphs" >50-215 bar</text>
<text x="628.00" y="1303.75" font-family="Liberation Sans" font-size="17" font-weight="bold" text-anchor="start" fill="#111" textLength="11" lengthAdjust="spacingAndGlyphs" >4</text>
<text x="647.25" y="1303.75" font-family="Liberation Sans" font-size="17" font-weight="normal" text-anchor="start" fill="#333" textLength="11.5" lengthAdjust="spacingAndGlyphs" >=</text>
<text x="666.25" y="1303.75" font-family="Liberation Sans" font-size="17" font-weight="normal" text-anchor="start" fill="#333" textLength="106.75" lengthAdjust="spacingAndGlyphs" >100-350 bar</text>
<text x="628.00" y="1324.25" font-family="Liberation Sans" font-size="17" font-weight="bold" text-anchor="start" fill="#111" textLength="11" lengthAdjust="spacingAndGlyphs" >5</text>
<text x="647.25" y="1324.25" font-family="Liberation Sans" font-size="17" font-weight="normal" text-anchor="start" fill="#333" textLength="11.5" lengthAdjust="spacingAndGlyphs" >=</text>
<text x="666.25" y="1324.25" font-family="Liberation Sans" font-size="17" font-weight="normal" text-anchor="start" fill="#333" textLength="106.75" lengthAdjust="spacingAndGlyphs" >100-420 bar</text>
<rect x="47.50" y="1306.00" width="435.50" height="29.00" fill="none" stroke="#333" stroke-width="2"/>
<text x="56.50" y="1333.00" font-family="Liberation Sans" font-size="28" font-weight="normal" text-anchor="start" fill="#333" textLength="13.5" lengthAdjust="spacingAndGlyphs" >*</text>
<text x="71.00" y="1330.00" font-family="Liberation Sans" font-size="20" font-weight="normal" text-anchor="start" fill="#333" textLength="33" lengthAdjust="spacingAndGlyphs" >see</text>
<text x="113.50" y="1330.00" font-family="Liberation Sans" font-size="23.5" font-weight="normal" text-anchor="start" fill="#222" font-style="italic" textLength="243" lengthAdjust="spacingAndGlyphs" >CARTRIDGE VALVES</text>
<text x="366.00" y="1330.00" font-family="Liberation Sans" font-size="20" font-weight="normal" text-anchor="start" fill="#333" textLength="104" lengthAdjust="spacingAndGlyphs" >datasheets</text>
<polygon points="181.00,125.00 355.00,226.00 251.00,284.00 77.60,184.00" fill="none" stroke="#3a3a3a" stroke-width="1.2"/>
<polyline points="77.60,184.00 77.60,304.40 252.50,401.25 355.00,358.75 355.00,226.00" fill="none" stroke="#3a3a3a" stroke-width="1.2"/>
<line x1="251.00" y1="284.00" x2="252.50" y2="401.25" stroke="#3a3a3a" stroke-width="1.2"/>
<ellipse cx="181.00" cy="138.40" rx="11.76" ry="6.79" fill="none" stroke="#3a3a3a" stroke-width="1.1"/>
<ellipse cx="101.60" cy="184.00" rx="11.76" ry="6.79" fill="none" stroke="#3a3a3a" stroke-width="1.1"/>
<ellipse cx="331.00" cy="225.00" rx="11.76" ry="6.79" fill="none" stroke="#3a3a3a" stroke-width="1.1"/>
<ellipse cx="252.00" cy="270.00" rx="11.76" ry="6.79" fill="none" stroke="#3a3a3a" stroke-width="1.1"/>
<ellipse cx="203.00" cy="196.60" rx="8.45" ry="4.88" fill="none" stroke="#3a3a3a" stroke-width="1.1"/>
<ellipse cx="233.60" cy="195.40" rx="8.45" ry="4.88" fill="none" stroke="#3a3a3a" stroke-width="1.1"/>
<ellipse cx="200.00" cy="214.00" rx="8.45" ry="4.88" fill="none" stroke="#3a3a3a" stroke-width="1.1"/>
<ellipse cx="230.60" cy="213.00" rx="8.45" ry="4.88" fill="none" stroke="#3a3a3a" stroke-width="1.1"/>
<ellipse cx="212.40" cy="172.60" rx="5.02" ry="2.90" fill="none" stroke="#3a3a3a" stroke-width="1.1"/>
<ellipse cx="161.00" cy="202.40" rx="5.02" ry="2.90" fill="none" stroke="#3a3a3a" stroke-width="1.1"/>
<ellipse cx="226.00" cy="238.60" rx="5.02" ry="2.90" fill="none" stroke="#3a3a3a" stroke-width="1.1"/>
<ellipse cx="275.50" cy="210.50" rx="5.02" ry="2.90" fill="none" stroke="#3a3a3a" stroke-width="1.1"/>
<ellipse cx="114.00" cy="244.00" rx="29.39" ry="16.97" fill="none" stroke="#3a3a3a" stroke-width="1.1" transform="rotate(60 114.00 244.00)"/>
<ellipse cx="116.00" cy="244.50" rx="18.62" ry="10.75" fill="none" stroke="#3a3a3a" stroke-width="1.1" transform="rotate(60 116.00 244.50)"/>
<ellipse cx="216.00" cy="304.00" rx="29.39" ry="16.97" fill="none" stroke="#3a3a3a" stroke-width="1.1" transform="rotate(60 216.00 304.00)"/>
<ellipse cx="218.00" cy="303.00" rx="17.64" ry="10.18" fill="none" stroke="#3a3a3a" stroke-width="1.1" transform="rotate(60 218.00 303.00)"/>
<ellipse cx="217.00" cy="340.00" rx="13.72" ry="7.92" fill="none" stroke="#3a3a3a" stroke-width="1.1" transform="rotate(60 217.00 340.00)"/>
<ellipse cx="217.00" cy="340.00" rx="5.14" ry="2.97" fill="none" stroke="#3a3a3a" stroke-width="1" transform="rotate(60 217.00 340.00)"/>
<ellipse cx="303.75" cy="293.75" rx="13.47" ry="7.78" fill="none" stroke="#3a3a3a" stroke-width="1.1" transform="rotate(-60 303.75 293.75)"/>
<ellipse cx="303.75" cy="293.75" rx="4.41" ry="2.55" fill="none" stroke="#3a3a3a" stroke-width="0.9" transform="rotate(-60 303.75 293.75)"/>
<ellipse cx="287.50" cy="338.75" rx="13.47" ry="7.78" fill="none" stroke="#3a3a3a" stroke-width="1.1" transform="rotate(-60 287.50 338.75)"/>
<ellipse cx="287.50" cy="338.75" rx="4.41" ry="2.55" fill="none" stroke="#3a3a3a" stroke-width="0.9" transform="rotate(-60 287.50 338.75)"/>
<text x="0" y="0" font-family="Liberation Sans" font-size="15" font-weight="bold" fill="#111" stroke="#111" stroke-width="0.6" transform="matrix(0.866,0.5,0,1,85,211)">B</text>
<text x="0" y="0" font-family="Liberation Sans" font-size="17" font-weight="bold" fill="#111" stroke="#111" stroke-width="0.4" transform="matrix(0.866,0.5,0,1,234,298)">A</text>
<polygon points="298.50,319.53 315.00,299.00 331.50,300.47 346.22,308.97 346.22,330.97 329.72,351.50 313.22,350.03 298.50,341.53" fill="#fff" stroke="#3a3a3a" stroke-width="1.1"/>
<polygon points="346.22,308.97 329.72,307.50 313.22,328.03 313.22,350.03 329.72,351.50 346.22,330.97" fill="#fff" stroke="#3a3a3a" stroke-width="1.1"/>
<line x1="315.00" y1="299.00" x2="329.72" y2="307.50" stroke="#3a3a3a" stroke-width="1.1"/>
<line x1="298.50" y1="319.53" x2="313.22" y2="328.03" stroke="#3a3a3a" stroke-width="1.1"/>
<line x1="298.50" y1="341.53" x2="313.22" y2="350.03" stroke="#3a3a3a" stroke-width="1.1"/>
<polygon points="313.27,339.00 313.36,336.96 313.63,334.84 314.07,332.66 314.69,330.45 315.47,328.23 316.41,326.02 317.49,323.85 318.71,321.74 320.05,319.71 321.50,317.80 323.03,316.01 324.64,314.37 326.30,312.89 328.00,311.60 329.72,310.50 331.44,309.61 333.14,308.94 334.81,308.49 336.41,308.28 337.95,308.30 339.39,308.55 340.73,309.02 341.95,309.73 356.67,318.23 357.76,319.15 358.69,320.27 359.48,321.59 360.09,323.09 360.54,324.76 360.81,326.57 360.90,328.50 360.81,330.54 360.54,332.66 360.09,334.84 359.48,337.05 358.69,339.27 357.76,341.48 356.67,343.65 355.45,345.76 354.12,347.79 352.67,349.70 351.14,351.49 349.53,353.13 347.87,354.61 346.16,355.90 344.44,357.00 342.72,357.89 341.02,358.56 339.36,359.01 337.75,359.22 336.22,359.20 334.77,358.95 333.43,358.48 332.22,357.77 317.49,349.27 316.41,348.35 315.47,347.23 314.69,345.91 314.07,344.41 313.63,342.74 313.36,340.93" fill="#fff" stroke="#3a3a3a" stroke-width="1.1"/>
<polygon points="360.90,328.50 360.81,326.57 360.54,324.76 360.09,323.09 359.48,321.59 358.69,320.27 357.76,319.15 356.67,318.23 355.45,317.52 354.12,317.04 352.67,316.80 351.14,316.78 349.53,316.99 347.86,317.44 346.16,318.11 344.44,319.00 342.72,320.10 341.02,321.39 339.36,322.87 337.75,324.51 336.22,326.30 334.77,328.21 333.43,330.24 332.22,332.35 331.13,334.52 330.19,336.73 329.41,338.95 328.80,341.16 328.35,343.34 328.08,345.46 327.99,347.50 328.08,349.43 328.35,351.24 328.80,352.91 329.41,354.41 330.19,355.73 331.13,356.85 332.22,357.77 333.43,358.48 334.77,358.96 336.22,359.20 337.75,359.22 339.36,359.01 341.02,358.56 342.72,357.89 344.44,357.00 346.16,355.90 347.86,354.61 349.53,353.13 351.14,351.49 352.67,349.70 354.12,347.79 355.45,345.76 356.67,343.65 357.76,341.48 358.69,339.27 359.48,337.05 360.09,334.84 360.54,332.66 360.81,330.54" fill="#fff" stroke="#3a3a3a" stroke-width="1.1"/>
<polygon points="326.82,336.43 344.44,314.50 362.07,316.07 379.39,326.07 379.39,349.57 361.76,371.50 344.14,369.93 326.82,359.93" fill="#fff" stroke="#3a3a3a" stroke-width="1.1"/>
<polygon points="379.39,326.07 361.76,324.50 344.14,346.43 344.14,369.93 361.76,371.50 379.39,349.57" fill="#fff" stroke="#3a3a3a" stroke-width="1.1"/>
<line x1="344.44" y1="314.50" x2="361.76" y2="324.50" stroke="#3a3a3a" stroke-width="1.1"/>
<line x1="326.82" y1="336.43" x2="344.14" y2="346.43" stroke="#3a3a3a" stroke-width="1.1"/>
<line x1="326.82" y1="359.93" x2="344.14" y2="369.93" stroke="#3a3a3a" stroke-width="1.1"/>
<polygon points="345.31,357.50 345.40,355.46 345.67,353.34 346.12,351.16 346.73,348.95 347.51,346.73 348.45,344.52 349.54,342.35 350.75,340.24 352.09,338.21 353.54,336.30 355.07,334.51 356.68,332.87 358.34,331.39 360.04,330.10 361.76,329.00 363.48,328.11 365.19,327.44 366.85,326.99 368.46,326.78 369.99,326.80 371.44,327.05 372.77,327.52 373.99,328.23 376.59,329.73 377.67,330.65 378.61,331.77 379.39,333.09 380.01,334.59 380.46,336.26 380.73,338.07 380.82,340.00 380.73,342.04 380.46,344.16 380.01,346.34 379.39,348.55 378.61,350.77 377.67,352.98 376.59,355.15 375.37,357.26 374.03,359.29 372.59,361.20 371.05,362.99 369.45,364.63 367.78,366.11 366.08,367.40 364.36,368.50 362.64,369.39 360.94,370.06 359.28,370.51 357.67,370.72 356.13,370.70 354.69,370.45 353.35,369.98 352.13,369.27 349.54,367.77 348.45,366.85 347.51,365.73 346.73,364.41 346.12,362.91 345.67,361.24 345.40,359.43" fill="#fff" stroke="#3a3a3a" stroke-width="1.1"/>
<polygon points="380.82,340.00 380.73,338.07 380.46,336.26 380.01,334.59 379.39,333.09 378.61,331.77 377.67,330.65 376.59,329.73 375.37,329.02 374.03,328.54 372.59,328.30 371.05,328.28 369.45,328.49 367.78,328.94 366.08,329.61 364.36,330.50 362.64,331.60 360.94,332.89 359.28,334.37 357.67,336.01 356.14,337.80 354.69,339.71 353.35,341.74 352.13,343.85 351.05,346.02 350.11,348.23 349.33,350.45 348.71,352.66 348.27,354.84 348.00,356.96 347.91,359.00 348.00,360.93 348.27,362.74 348.71,364.41 349.33,365.91 350.11,367.23 351.05,368.35 352.13,369.27 353.35,369.98 354.69,370.46 356.13,370.70 357.67,370.72 359.28,370.51 360.94,370.06 362.64,369.39 364.36,368.50 366.08,367.40 367.78,366.11 369.45,364.63 371.05,362.99 372.59,361.20 374.03,359.29 375.37,357.26 376.59,355.15 377.67,352.98 378.61,350.77 379.39,348.55 380.01,346.34 380.46,344.16 380.73,342.04" fill="#fff" stroke="#3a3a3a" stroke-width="1.1"/>
<polygon points="352.36,348.43 364.36,333.50 376.36,334.57 387.62,341.07 387.62,357.07 375.62,372.00 363.62,370.93 352.36,364.43" fill="#fff" stroke="#3a3a3a" stroke-width="1.1"/>
<polygon points="387.62,341.07 375.62,340.00 363.62,354.93 363.62,370.93 375.62,372.00 387.62,357.07" fill="#fff" stroke="#3a3a3a" stroke-width="1.1"/>
<line x1="364.36" y1="333.50" x2="375.62" y2="340.00" stroke="#3a3a3a" stroke-width="1.1"/>
<line x1="352.36" y1="348.43" x2="363.62" y2="354.93" stroke="#3a3a3a" stroke-width="1.1"/>
<line x1="352.36" y1="364.43" x2="363.62" y2="370.93" stroke="#3a3a3a" stroke-width="1.1"/>
<polygon points="367.39,360.75 367.44,359.73 367.57,358.67 367.80,357.58 368.10,356.48 368.50,355.36 368.96,354.26 369.51,353.17 370.12,352.12 370.78,351.11 371.51,350.15 372.27,349.25 373.08,348.43 373.91,347.69 374.76,347.05 375.62,346.50 376.48,346.06 377.33,345.72 378.16,345.50 378.97,345.39 379.73,345.40 380.46,345.52 381.12,345.76 381.73,346.11 392.99,352.61 393.53,353.07 394.00,353.64 394.39,354.30 394.70,355.05 394.93,355.88 395.06,356.78 395.11,357.75 395.06,358.77 394.93,359.83 394.70,360.92 394.39,362.02 394.00,363.14 393.53,364.24 392.99,365.33 392.38,366.38 391.71,367.39 390.99,368.35 390.22,369.25 389.42,370.07 388.59,370.81 387.74,371.45 386.88,372.00 386.02,372.44 385.17,372.78 384.34,373.00 383.53,373.11 382.76,373.10 382.04,372.98 381.37,372.74 380.76,372.39 369.51,365.89 368.96,365.43 368.50,364.86 368.10,364.20 367.80,363.45 367.57,362.62 367.44,361.72" fill="#fff" stroke="#3a3a3a" stroke-width="1.1"/>
<polygon points="395.10,357.75 395.06,356.78 394.93,355.88 394.70,355.05 394.39,354.30 394.00,353.64 393.53,353.07 392.99,352.61 392.38,352.26 391.71,352.02 390.99,351.90 390.22,351.89 389.42,352.00 388.59,352.22 387.74,352.56 386.88,353.00 386.02,353.55 385.17,354.20 384.34,354.93 383.53,355.75 382.76,356.65 382.04,357.61 381.37,358.62 380.76,359.67 380.22,360.76 379.75,361.86 379.36,362.98 379.05,364.08 378.83,365.17 378.70,366.23 378.65,367.25 378.70,368.22 378.83,369.12 379.05,369.95 379.36,370.70 379.75,371.36 380.22,371.93 380.76,372.39 381.37,372.74 382.04,372.98 382.76,373.10 383.53,373.11 384.34,373.00 385.17,372.78 386.02,372.44 386.88,372.00 387.74,371.45 388.59,370.80 389.42,370.07 390.22,369.25 390.99,368.35 391.71,367.39 392.38,366.38 392.99,365.33 393.53,364.24 394.00,363.14 394.39,362.02 394.70,360.92 394.93,359.83 395.06,358.77" fill="#fff" stroke="#3a3a3a" stroke-width="1.1"/>
</svg></body></html>
